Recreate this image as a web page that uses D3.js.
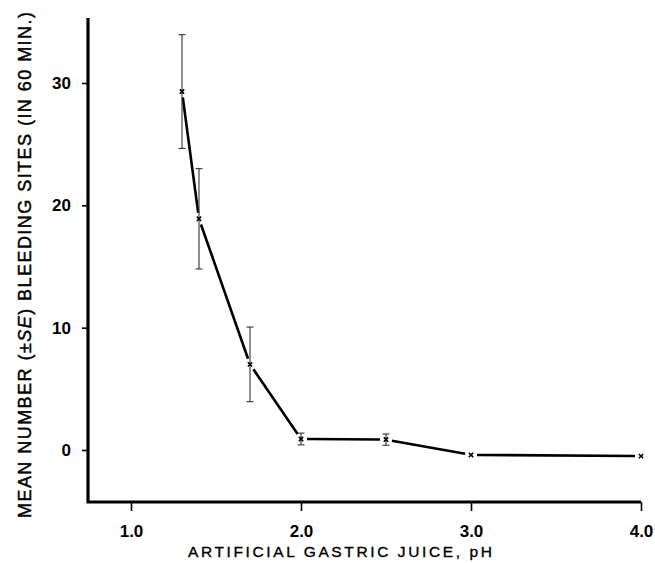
<!DOCTYPE html>
<html>
<head>
<meta charset="utf-8">
<script src="https://cdn.jsdelivr.net/npm/d3@7"></script>
<style>
  html, body { margin: 0; padding: 0; background: #fff; }
  svg { display: block; }
  text { font-family: "Liberation Sans", Arial, sans-serif; fill: #000; }
</style>
</head>
<body>
<div id="chart"></div>
<script>
// ---- data ----
const phValues   = [1.3, 1.4, 1.7, 2.0, 2.5, 3.0, 4.0];
const meanSites  = [29.3, 18.9, 7.0, 0.9, 0.85, -0.4, -0.5];
const seValues   = [4.65, 4.1, 3.05, 0.48, 0.46, null, null];
const xTickValues = [1.0, 2.0, 3.0, 4.0];
const yTickValues = [0, 10, 20, 30];
const xTitle = "ARTIFICIAL GASTRIC JUICE, pH";
const yTitleParts = ["MEAN NUMBER (\u00B1", "SE", ") BLEEDING SITES (IN 60 MIN.)"];

const W = 655, H = 563;
const svg = d3.select("#chart").append("svg").attr("width", W).attr("height", H);

const x = d3.scaleLinear().domain([1, 4]).range([131, 641]);
const y = d3.scaleLinear().domain([0, 30]).range([450, 83]);
const xMin = x.invert(88), yMax = y.invert(18), yMin = y.invert(502);

// axes
const xAxis = svg.append("g").attr("transform", `translate(0,${y(yMin)})`)
  .call(d3.axisBottom(x).tickValues(xTickValues).tickFormat(d3.format(".1f")).tickSize(9).tickPadding(14));
xAxis.select(".domain").remove();
xAxis.selectAll(".tick line").attr("stroke", "#000").attr("stroke-width", 1.6);
xAxis.selectAll(".tick text").attr("font-size", 17).attr("font-weight", "bold").attr("fill", "#111");

const yAxis = svg.append("g").attr("transform", `translate(${x(xMin)},0)`)
  .call(d3.axisLeft(y).tickValues(yTickValues).tickFormat(d3.format("d")).tickSize(6).tickPadding(11));
yAxis.select(".domain").remove();
yAxis.selectAll(".tick line").attr("stroke", "#000").attr("stroke-width", 1.6);
yAxis.selectAll(".tick text").attr("font-size", 17).attr("font-weight", "bold").attr("fill", "#111");

// axis lines (thick)
svg.append("path")
  .attr("d", `M${x(xMin)},${y(yMax)}V${y(yMin)}H${x(4)}`)
  .attr("fill", "none").attr("stroke", "#000").attr("stroke-width", 3.2)
  .attr("stroke-linejoin", "miter");

// connecting line segments (with small gaps at markers)
const pts = phValues.map((p, i) => [x(p), y(meanSites[i])]);
const gap = 6;
const segs = [];
for (let i = 0; i < pts.length - 1; i++) {
  const [x0, y0] = pts[i], [x1, y1] = pts[i + 1];
  const dx = x1 - x0, dy = y1 - y0, L = Math.hypot(dx, dy);
  const ux = dx / L, uy = dy / L;
  segs.push([x0 + ux * gap, y0 + uy * gap, x1 - ux * gap, y1 - uy * gap]);
}
svg.append("g").selectAll("line").data(segs).join("line")
  .attr("x1", d => d[0]).attr("y1", d => d[1]).attr("x2", d => d[2]).attr("y2", d => d[3])
  .attr("stroke", "#000").attr("stroke-width", 2.6).attr("stroke-linecap", "butt");

// error bars
const eb = svg.append("g").attr("stroke", "#333").attr("stroke-width", 1.1);
phValues.forEach((p, i) => {
  const se = seValues[i];
  if (se == null) return;
  const cx = x(p), top = y(meanSites[i] + se), bot = y(meanSites[i] - se);
  eb.append("line").attr("x1", cx).attr("x2", cx).attr("y1", top).attr("y2", bot);
  eb.append("line").attr("x1", cx - 3.5).attr("x2", cx + 3.5).attr("y1", top).attr("y2", top);
  eb.append("line").attr("x1", cx - 3.5).attr("x2", cx + 3.5).attr("y1", bot).attr("y2", bot);
});

// markers
svg.append("g").selectAll("path").data(pts).join("path")
  .attr("transform", d => `translate(${d[0]},${d[1]})`)
  .attr("d", d3.symbol().type(d3.symbolTimes).size(14))
  .attr("fill", "none").attr("stroke", "#000").attr("stroke-width", 1.6);

// x title
svg.append("text")
  .attr("x", 340).attr("y", 557)
  .attr("text-anchor", "middle")
  .attr("font-size", 15.5)
  .attr("stroke", "#000").attr("stroke-width", 0.35)
  .attr("textLength", 304).attr("lengthAdjust", "spacing")
  .text(xTitle);

// y title
const yt = svg.append("text")
  .attr("transform", "translate(31,265) rotate(-90)")
  .attr("text-anchor", "middle")
  .attr("font-size", 18)
  .attr("stroke", "#000").attr("stroke-width", 0.45)
  .attr("textLength", 506).attr("lengthAdjust", "spacing");
yt.append("tspan").text(yTitleParts[0]);
yt.append("tspan").attr("font-style", "italic").text(yTitleParts[1]);
yt.append("tspan").text(yTitleParts[2]);
</script>
</body>
</html>
